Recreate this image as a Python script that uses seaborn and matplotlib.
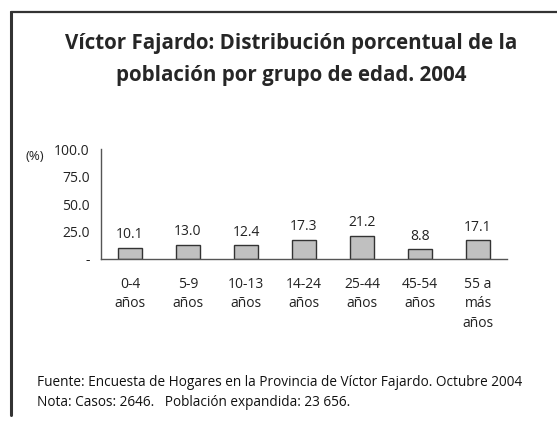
import numpy as np
import matplotlib
matplotlib.use("Agg")
import matplotlib.pyplot as plt
import seaborn as sns

# data
grupos = ['0-4\naños', '5-9\naños', '10-13\naños', '14-24\naños',
          '25-44\naños', '45-54\naños', '55 a\nmás\naños']
porcentaje = [10.1, 13.0, 12.4, 17.3, 21.2, 8.8, 17.1]
yticks = [0, 25, 50, 75, 100]
ytick_labels = ['-', '25.0', '50.0', '75.0', '100.0']

sns.set_style('white')
plt.rcParams['font.family'] = ['Open Sans', 'DejaVu Sans']

fig = plt.figure(figsize=(5.57, 4.21), dpi=100)
ax = fig.add_axes([0.1813, 0.3848, 0.729, 0.261])

sns.barplot(x=list(range(len(grupos))), y=porcentaje, ax=ax, color='#c0c0c0',
            saturation=1, width=0.42, edgecolor='#333333', linewidth=1)

for i, v in enumerate(porcentaje):
    ax.annotate(f'{v:.1f}', (i, v), xytext=(0, 4), textcoords='offset points',
                ha='center', va='bottom', fontsize=10, color='#222222')

ax.set_xlim(-0.5, len(grupos) - 0.5)
ax.set_ylim(0, 100)
ax.set_yticks(yticks)
ax.set_yticklabels(ytick_labels, fontsize=10, color='#222222')
ax.set_xticks(range(len(grupos)))
ax.set_xticklabels(grupos, fontsize=10, color='#222222', va='top', linespacing=1.4)
ax.set_xticks(np.arange(-0.5, len(grupos), 1), minor=True)
ax.tick_params(axis='x', which='major', length=0, pad=13)
ax.tick_params(axis='x', which='minor', length=4, width=1, color='#555555', direction='out')
ax.tick_params(axis='y', length=4, width=1, color='#555555', direction='out', pad=4)
for s in ['top', 'right']:
    ax.spines[s].set_visible(False)
for s in ['left', 'bottom']:
    ax.spines[s].set_color('#555555')
    ax.spines[s].set_linewidth(1)
ax.set_xlabel('')
ax.set_ylabel('')

fig.text(25 / 557, 1 - 157 / 421, '(%)', fontsize=9.5, ha='left', va='center', color='#222222')

fig.text(0.523, 1 - 43 / 421, 'Víctor Fajardo: Distribución porcentual de la',
         fontsize=14.8, fontweight='bold', ha='center', va='center')
fig.text(0.523, 1 - 75 / 421, 'población por grupo de edad. 2004',
         fontsize=14.8, fontweight='bold', ha='center', va='center')

fig.text(37 / 557, 1 - 383 / 421,
         'Fuente: Encuesta de Hogares en la Provincia de Víctor Fajardo. Octubre 2004',
         fontsize=9.8, ha='left', va='center', color='#111111')
fig.text(37 / 557, 1 - 403 / 421, 'Nota: Casos: 2646.   Población expandida: 23 656.',
         fontsize=9.8, ha='left', va='center', color='#111111')

# frame of the original box (top and left edges)
fig.add_artist(plt.Line2D([11 / 557, 1.0], [1 - 12 / 421, 1 - 12 / 421],
                          transform=fig.transFigure, color='#333333', linewidth=1.6))
fig.add_artist(plt.Line2D([11 / 557, 11 / 557], [1 - 12 / 421, 1 - 415 / 421],
                          transform=fig.transFigure, color='#333333', linewidth=2.2))

fig.savefig('out.png', dpi=100)
